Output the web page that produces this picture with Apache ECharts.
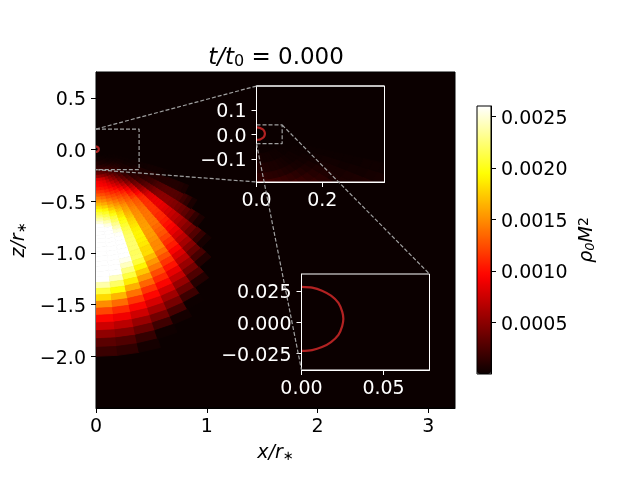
<!DOCTYPE html>
<html><head><meta charset="utf-8">
<style>html,body{margin:0;padding:0;background:#fff}#c{width:640px;height:480px}</style>
<script src="https://cdn.jsdelivr.net/npm/echarts@6/dist/echarts.min.js"></script>
</head><body><div id="c"></div>
<script>
// radial cell edges (r/r*)
const rEdges=[.04,.08,.12,.16,.19,.22,.25,.28,.31,.34,.37,.40,.43,.46,.49,.52,.55,.58,.609,.637,.665,.695,.726,.759,.793,.829,.866,.905,.946,.989,1.033,1.08,1.128,1.179,1.232,1.287,1.345,1.406,1.469,1.535,1.604,1.677,1.752,1.83,1.914,2.0];
// polar angle cell edges (radians, measured from -z axis)
const thetaEdges=[0,.098,.196,.295,.393,.491,.589,.687,.785,.884,.982,1.08,1.178,1.276,1.374,1.473,1.571];
// density per cell in units of 1e-5; one row per radial cell, one entry per angular cell
const rhoRows=[
[1,1,1,1,1,1],
[4,4,3,3,3,2,2,2,1,1],
[8,8,7,6,6,5,4,3,2,2,1,1],
[13,13,12,11,10,8,7,5,4,3,2,1,1],
[22,21,20,18,16,14,12,9,7,5,3,2,1],
[36,35,33,30,25,21,16,13,10,7,4,3,1],
[56,54,50,44,36,28,21,16,12,8,5,3,1],
[80,79,74,62,50,40,30,20,12,6,5,2,1],
[92,90,85,74,60,50,36,24,14,7,6,3,1],
[96,94,91,84,72,60,44,30,17,8,7,3,2],
[105,103,99,92,82,70,54,36,21,10,8,4,2],
[116,113,108,102,94,82,66,44,26,12,9,5,2],
[127,124,118,111,106,94,78,54,32,15,10,7,2],
[140,136,128,122,115,106,90,66,38,18,11,7,2],
[153,148,140,131,124,116,100,76,44,22,12,7,3],
[167,161,151,142,133,124,108,86,50,26,14,8,3],
[182,175,163,152,141,130,116,96,58,30,16,8,3],
[197,190,175,162,150,136,126,104,68,34,18,8,3],
[210,203,187,171,156,140,130,110,76,38,21,9,3],
[222,214,199,180,160,144,132,112,82,42,24,9,2],
[236,226,210,186,165,148,135,113,85,46,26,9,1],
[250,239,219,194,170,150,138,114,87,48,28,9],
[261,252,230,200,176,152,139,114,88,50,29,9],
[261,261,240,206,180,153,140,114,88,50,29,9],
[261,261,250,212,184,155,140,113,85,50,29,9],
[261,261,258,216,188,156,140,110,82,48,28,8],
[261,261,261,220,191,157,139,109,78,46,26,6],
[261,261,261,221,191,156,135,105,73,42,20],
[261,261,261,222,189,155,131,100,68,38,14],
[261,261,261,222,186,152,127,94,62,33,6],
[261,261,261,218,180,148,120,87,55,25],
[261,261,255,220,181,148,112,78,47,15],
[261,261,243,209,168,138,105,69,38,7],
[261,261,227,191,154,126,94,60,28],
[261,243,210,173,141,114,81,48,16],
[238,220,187,154,124,102,69,36,5],
[211,195,163,134,110,86,55,23],
[180,165,139,114,95,71,41,9],
[149,136,116,97,77,54,26],
[122,111,95,79,58,37,10],
[97,90,76,60,42,19],
[76,68,55,40,23,1],
[52,47,36,20,4],
[31,27,16,2],
[18,14,4]
];
const circleX=[0,.0065,.0125,.018,.0225,.0248,.0255,.0248,.0225,.018,.0125,.0065,0];
const circleZ=[.0283,.0276,.0252,.0212,.0155,.0085,.0028,-.003,-.01,-.0157,-.0197,-.0221,-.0228];
// zoom windows
const inset1X=[0,.389], inset1Z=[-.195,.198];
const inset2X=[0,.078], inset2Z=[-.038,.0385];
const mainXTicks=[0,1,2,3], mainZTicks=[-2,-1.5,-1,-.5,0,.5];
const in1XTicks=[0,.2], in1ZTicks=[-.1,0,.1];
const in2XTicks=[0,.05], in2ZTicks=[-.025,0,.025];
const cbarTicks=[.0005,.001,.0015,.002,.0025];
const cbarRange=[0,.0026];

const FF='"DejaVu Sans"';
const FS=19;
// matplotlib "hot" colormap stops
function hot(t){
  const R=Math.min(1,.0416+t*(1-.0416)/.365079),
        G=Math.max(0,Math.min(1,(t-.365079)/(.746032-.365079))),
        B=Math.max(0,Math.min(1,(t-.746032)/(1-.746032)));
  return 'rgb('+[R,G,B].map(v=>Math.round(v*255)).join(',')+')';
}
const palette=[];for(let i=0;i<=40;i++)palette.push(hot(i/40));

const cells=[];
rhoRows.forEach((row,i)=>row.forEach((v,j)=>{
  cells.push([rEdges[i],rEdges[i+1],thetaEdges[j],thetaEdges[j+1],v*1e-5]);
}));
const pairs=(a,b)=>a.map((v,i)=>[v,b[i]]);
const rectPts=(X,Z)=>[[X[0],Z[1]],[X[1],Z[1]],[X[1],Z[0]],[X[0],Z[0]]];
const renderCell=(p,api)=>{
  const r0=api.value(0),r1=api.value(1),t0=api.value(2),t1=api.value(3);
  const P=(r,t)=>api.coord([r*Math.sin(t),-r*Math.cos(t)]);
  const c=api.visual('color');
  return {type:'polygon',shape:{points:[P(r0,t0),P(r1,t0),P(r1,t1),P(r0,t1)]},
    style:{fill:c,stroke:c,lineWidth:.9},silent:true};
};
const cellSeries=(ax)=>({type:'custom',xAxisIndex:ax,yAxisIndex:ax,coordinateSystem:'cartesian2d',
  data:cells,dimensions:['r0','r1','t0','t1','rho'],encode:{x:0,y:1},renderItem:renderCell,clip:true,silent:true,z:4});
const circle=(ax)=>({type:'line',xAxisIndex:ax,yAxisIndex:ax,data:pairs(circleX,circleZ),showSymbol:false,smooth:.3,
  lineStyle:{color:'#b22222',width:2.2},clip:true,silent:true,z:5});
const dashRect=(ax,X,Z)=>{const p=rectPts(X,Z);return {type:'line',xAxisIndex:ax,yAxisIndex:ax,data:[p[0],p[1],p[2],p[3]],
  showSymbol:false,lineStyle:{color:'#a0a0a0',width:1.2,type:[4,2]},clip:false,silent:true,z:5};};
// white frame redrawn above the cells of the first zoom window
const frame=(ax,X,Z)=>{const p=rectPts(X,Z);return {type:'line',xAxisIndex:ax,yAxisIndex:ax,data:[p[0],p[1],p[2],p[3],p[0]],
  showSymbol:false,lineStyle:{color:'#fff',width:1},clip:false,silent:true,z:6};};

const minus=s=>s.replace('-','\u2212');
function axis(kind,idx,min,max,ticks,color,dec,extra){
  const lab={customValues:ticks,color,fontFamily:FF,fontSize:FS,margin:10,hideOverlap:false};
  if(kind==='y'){
    lab.formatter=v=>'{a|'+minus((+v).toFixed(dec))+'}';
    lab.rich={a:{color,fontFamily:FF,fontSize:FS,padding:[5,0,0,0]}};
  } else lab.formatter=v=>minus((+v).toFixed(dec));
  return Object.assign({type:'value',gridIndex:idx,min,max,splitLine:{show:false},
    axisLine:{show:true,onZero:false,lineStyle:{color,width:1}},
    axisTick:{show:true,customValues:ticks,length:5,lineStyle:{color,width:1}},
    axisLabel:lab},extra||{});
}
const subRich={i:{fontFamily:FF,fontStyle:'italic',fontSize:19,color:'#000'},
  s:{fontFamily:FF,fontStyle:'italic',fontSize:13,color:'#000',padding:[7,0,0,0]},
  u:{fontFamily:FF,fontStyle:'normal',fontSize:14,color:'#000',padding:[0,0,7,0]},
  n:{fontFamily:FF,fontSize:19,color:'#000'}};
const bigRich={i:{fontFamily:FF,fontStyle:'italic',fontWeight:'normal',fontSize:23,color:'#000'},
  s:{fontFamily:FF,fontStyle:'normal',fontWeight:'normal',fontSize:16,color:'#000',padding:[8,0,0,0]},
  n:{fontFamily:FF,fontWeight:'normal',fontSize:23,color:'#000'}};

const chart=echarts.init(document.getElementById('c'),null,{renderer:'canvas'});
const BG=hot(0);
chart.setOption({
  animation:false,backgroundColor:'#fff',
  title:{text:'{i|t/t}{s|0}{n| = 0.000}',left:271,top:41,textAlign:'center',textStyle:{fontWeight:'normal',rich:bigRich}},
  grid:[
    {left:96,top:72,width:359,height:336,show:true,backgroundColor:BG,borderColor:'#000',borderWidth:1,z:1},
    {left:256.5,top:86,width:128,height:96,show:true,backgroundColor:BG,borderColor:'#fff',borderWidth:1,z:3},
    {left:301.5,top:274,width:128,height:96,show:true,backgroundColor:BG,borderColor:'#fff',borderWidth:1,z:3},
    {left:477,top:106,width:14,height:268,show:true,backgroundColor:'transparent',borderColor:'#000',borderWidth:1,z:5}
  ],
  xAxis:[
    axis('x',0,0,3.24,mainXTicks,'#000',0,{name:'{i|x/r}{s|\u2217}',nameLocation:'middle',nameGap:35,nameTextStyle:{rich:subRich}}),
    axis('x',1,inset1X[0],inset1X[1],in1XTicks,'#fff',1,{z:6}),
    axis('x',2,inset2X[0],inset2X[1],in2XTicks,'#fff',2,{z:6}),
    {type:'value',gridIndex:3,min:0,max:1,show:false}
  ],
  yAxis:[
    axis('y',0,-2.5,.75,mainZTicks,'#000',1,{name:'{i|z/r}{s|\u2217}',nameLocation:'middle',nameGap:54,nameRotate:90,nameTextStyle:{rich:subRich}}),
    axis('y',1,inset1Z[0],inset1Z[1],in1ZTicks,'#fff',1,{z:6}),
    axis('y',2,inset2Z[0],inset2Z[1],in2ZTicks,'#fff',3,{z:6}),
    axis('y',3,cbarRange[0],cbarRange[1],cbarTicks,'#000',4,{position:'right',name:'{i|\u03c1}{s|0}{i|M}{u|2}',nameLocation:'middle',nameGap:86,nameRotate:90,nameTextStyle:{rich:subRich}})
  ],
  visualMap:{type:'continuous',min:cbarRange[0],max:cbarRange[1],dimension:4,seriesIndex:[0,1],inRange:{color:palette},
    left:477,top:106,itemWidth:14,itemHeight:268,padding:0,showLabel:false,text:null,calculable:false,hoverLink:false,realtime:false,z:1},
  series:[
    cellSeries(0),cellSeries(1),
    circle(0),circle(1),circle(2),
    dashRect(0,inset1X,inset1Z),dashRect(1,inset2X,inset2Z),
    frame(1,inset1X,inset1Z),
    {type:'line',xAxisIndex:3,yAxisIndex:3,data:[],silent:true}
  ]
});
// connector lines between zoom windows, placed through each grid's own scale
const px=(g,p)=>chart.convertToPixel({gridIndex:g},p);
const conn=(g0,p0,g1,p1)=>{const a=px(g0,p0),b=px(g1,p1);return {type:'line',silent:true,z:50,
  shape:{x1:a[0],y1:a[1],x2:b[0],y2:b[1]},style:{stroke:'#a0a0a0',lineWidth:1.2,lineDash:[4,2]}};};
chart.setOption({graphic:[
  conn(0,[inset1X[0],inset1Z[1]],1,[inset1X[0],inset1Z[1]]),
  conn(0,[inset1X[0],inset1Z[0]],1,[inset1X[0],inset1Z[0]]),
  conn(1,[inset2X[0],inset2Z[0]],2,[inset2X[0],inset2Z[0]]),
  conn(1,[inset2X[1],inset2Z[1]],2,[inset2X[1],inset2Z[1]])
]});
</script></body></html>
